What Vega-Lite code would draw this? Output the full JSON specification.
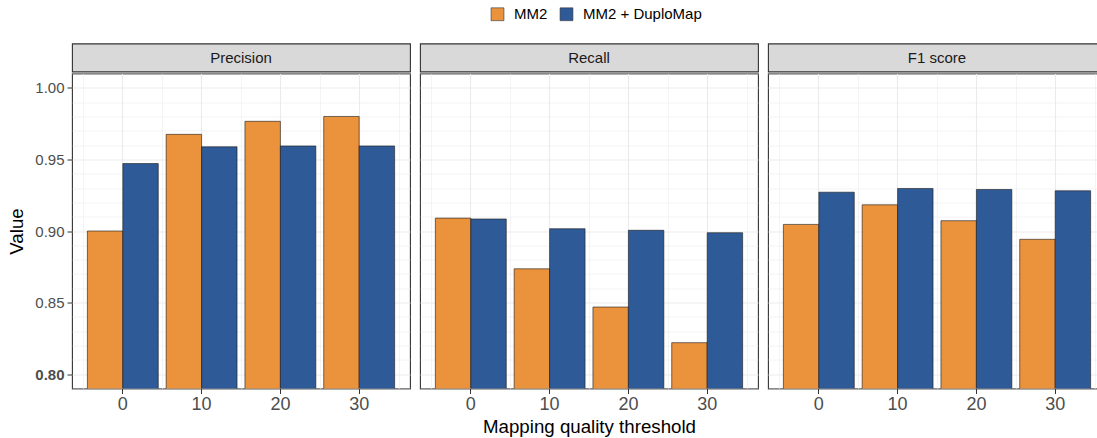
{
  "$schema": "https://vega.github.io/schema/vega-lite/v6.json",
  "padding": {"left": 7, "top": 6.5, "right": 0, "bottom": 0},
  "background": "white",
  "config": {
    "font": "Liberation Sans",
    "view": {"stroke": null},
    "concat": {"spacing": 8}
  },
  "datasets": {
    "d": [
      {"metric": "Precision", "threshold": 0, "method": "MM2", "value": 0.900},
      {"metric": "Precision", "threshold": 10, "method": "MM2", "value": 0.9675},
      {"metric": "Precision", "threshold": 20, "method": "MM2", "value": 0.9766},
      {"metric": "Precision", "threshold": 30, "method": "MM2", "value": 0.980},
      {"metric": "Precision", "threshold": 0, "method": "MM2 + DuploMap", "value": 0.9471},
      {"metric": "Precision", "threshold": 10, "method": "MM2 + DuploMap", "value": 0.9588},
      {"metric": "Precision", "threshold": 20, "method": "MM2 + DuploMap", "value": 0.9594},
      {"metric": "Precision", "threshold": 30, "method": "MM2 + DuploMap", "value": 0.9594},
      {"metric": "Recall", "threshold": 0, "method": "MM2", "value": 0.909},
      {"metric": "Recall", "threshold": 10, "method": "MM2", "value": 0.8736},
      {"metric": "Recall", "threshold": 20, "method": "MM2", "value": 0.8469},
      {"metric": "Recall", "threshold": 30, "method": "MM2", "value": 0.822},
      {"metric": "Recall", "threshold": 0, "method": "MM2 + DuploMap", "value": 0.9084},
      {"metric": "Recall", "threshold": 10, "method": "MM2 + DuploMap", "value": 0.9016},
      {"metric": "Recall", "threshold": 20, "method": "MM2 + DuploMap", "value": 0.9005},
      {"metric": "Recall", "threshold": 30, "method": "MM2 + DuploMap", "value": 0.8988},
      {"metric": "F1 score", "threshold": 0, "method": "MM2", "value": 0.9046},
      {"metric": "F1 score", "threshold": 10, "method": "MM2", "value": 0.9183},
      {"metric": "F1 score", "threshold": 20, "method": "MM2", "value": 0.9072},
      {"metric": "F1 score", "threshold": 30, "method": "MM2", "value": 0.8942},
      {"metric": "F1 score", "threshold": 0, "method": "MM2 + DuploMap", "value": 0.9271},
      {"metric": "F1 score", "threshold": 10, "method": "MM2 + DuploMap", "value": 0.9297},
      {"metric": "F1 score", "threshold": 20, "method": "MM2 + DuploMap", "value": 0.9290},
      {"metric": "F1 score", "threshold": 30, "method": "MM2 + DuploMap", "value": 0.9281}
    ]
  },
  "data": {"name": "d"},
  "resolve": {"scale": {"color": "shared"}, "legend": {"color": "shared"}},
  "hconcat": [
    {
      "spacing": 0,
      "resolve": {"scale": {"color": "shared"}, "legend": {"color": "shared"}},
      "vconcat": [
        {
          "width": 338, "height": 28,
          "transform": [{"filter": "datum.metric == 'Precision'"}, {"aggregate": [{"op": "count", "as": "n"}], "groupby": ["metric"]}],
          "view": {"fill": "#d9d9d9", "stroke": "#333333", "strokeWidth": 1.1},
          "mark": {"type": "text", "fontSize": 15, "color": "#1a1a1a", "baseline": "middle", "align": "center"},
          "encoding": {"text": {"field": "metric"}}
        },
        {
          "width": 338, "height": 315,
          "transform": [{"filter": "datum.metric == 'Precision'"}],
          "view": {"fill": "white", "stroke": "#333333", "strokeWidth": 1.1},
          "resolve": {"axis": {"x": "independent", "y": "independent"}},
          "layer": [
            {
              "mark": {"type": "bar", "opacity": 0, "clip": true},
              "encoding": {
                "x": {"field": "threshold", "type": "ordinal", "scale": {"paddingInner": 0, "paddingOuter": 0.145},
                      "axis": {"tickBand": "extent", "orient": "top", "labels": false, "ticks": false, "domain": false, "title": null, "grid": true, "gridColor": "#ebebeb", "gridWidth": 0.55, "minExtent": 0, "maxExtent": 0}},
                "y": {"field": "value", "type": "quantitative", "scale": {"domain": [0.79, 1.01], "zero": false, "nice": false},
                      "axis": {"orient": "right", "values": [0.79, 0.81, 0.82, 0.83, 0.84, 0.86, 0.87, 0.88, 0.89, 0.91, 0.92, 0.93, 0.94, 0.96, 0.97, 0.98, 0.99, 1.01], "labels": false, "ticks": false, "domain": false, "title": null, "grid": true, "gridColor": "#ebebeb", "gridWidth": 0.55, "minExtent": 0, "maxExtent": 0}}
              }
            },
            {
              "mark": {"type": "bar", "clip": true, "stroke": "#1a1a1a", "strokeWidth": 0.6},
              "encoding": {
                "x": {"field": "threshold", "type": "ordinal", "scale": {"paddingInner": 0, "paddingOuter": 0.145},
                      "axis": {"labelAngle": 0, "labelFontSize": 18, "labelColor": "#4d4d4d", "tickColor": "#333333", "tickSize": 5, "labelPadding": 2, "domain": false, "grid": true, "gridColor": "#ebebeb", "gridWidth": 1.1, "title": null}},
                "xOffset": {"field": "method", "type": "nominal", "scale": {"domain": ["MM2", "MM2 + DuploMap"], "paddingInner": 0, "paddingOuter": 0.1111}},
                "y": {"field": "value", "type": "quantitative", "scale": {"domain": [0.79, 1.01], "zero": false, "nice": false},
                      "axis": {"values": [0.8, 0.85, 0.9, 0.95, 1.0], "format": ".2f", "labelFontSize": 15, "labelColor": "#4d4d4d",
                               "labelFontWeight": {"condition": {"test": "datum.value < 0.81", "value": "bold"}, "value": "normal"},
                               "tickColor": "#333333", "tickSize": 5, "labelPadding": 3, "domain": false, "grid": true, "gridColor": "#ebebeb", "gridWidth": 1.1,
                               "title": "Value", "titleFontSize": 18.7, "titleFontWeight": "normal", "titleColor": "#000000", "titlePadding": 8}},
                "color": {"field": "method", "type": "nominal", "scale": {"domain": ["MM2", "MM2 + DuploMap"], "range": ["#EB923C", "#2F5A98"]},
                          "legend": {"orient": "none", "legendX": 418, "legendY": -37, "direction": "horizontal", "title": null, "symbolType": "square", "symbolSize": 165, "symbolStrokeColor": "#333333", "symbolStrokeWidth": 0.6, "symbolOpacity": 1, "labelFontSize": 15, "labelColor": "#000000", "labelOffset": 9, "columnPadding": 10}}
              }
            }
          ]
        }
      ]
    },
    {
      "spacing": 0,
      "resolve": {"scale": {"color": "shared"}, "legend": {"color": "shared"}},
      "vconcat": [
        {
          "width": 338, "height": 28,
          "transform": [{"filter": "datum.metric == 'Recall'"}, {"aggregate": [{"op": "count", "as": "n"}], "groupby": ["metric"]}],
          "view": {"fill": "#d9d9d9", "stroke": "#333333", "strokeWidth": 1.1},
          "mark": {"type": "text", "fontSize": 15, "color": "#1a1a1a", "baseline": "middle", "align": "center"},
          "encoding": {"text": {"field": "metric"}}
        },
        {
          "width": 338, "height": 315,
          "transform": [{"filter": "datum.metric == 'Recall'"}],
          "view": {"fill": "white", "stroke": "#333333", "strokeWidth": 1.1},
          "resolve": {"axis": {"x": "independent", "y": "independent"}},
          "layer": [
            {
              "mark": {"type": "bar", "opacity": 0, "clip": true},
              "encoding": {
                "x": {"field": "threshold", "type": "ordinal", "scale": {"paddingInner": 0, "paddingOuter": 0.145},
                      "axis": {"tickBand": "extent", "orient": "top", "labels": false, "ticks": false, "domain": false, "title": null, "grid": true, "gridColor": "#ebebeb", "gridWidth": 0.55, "minExtent": 0, "maxExtent": 0}},
                "y": {"field": "value", "type": "quantitative", "scale": {"domain": [0.79, 1.01], "zero": false, "nice": false},
                      "axis": {"orient": "right", "values": [0.79, 0.81, 0.82, 0.83, 0.84, 0.86, 0.87, 0.88, 0.89, 0.91, 0.92, 0.93, 0.94, 0.96, 0.97, 0.98, 0.99, 1.01], "labels": false, "ticks": false, "domain": false, "title": null, "grid": true, "gridColor": "#ebebeb", "gridWidth": 0.55, "minExtent": 0, "maxExtent": 0}}
              }
            },
            {
              "mark": {"type": "bar", "clip": true, "stroke": "#1a1a1a", "strokeWidth": 0.6},
              "encoding": {
                "x": {"field": "threshold", "type": "ordinal", "scale": {"paddingInner": 0, "paddingOuter": 0.145},
                      "axis": {"labelAngle": 0, "labelFontSize": 18, "labelColor": "#4d4d4d", "tickColor": "#333333", "tickSize": 5, "labelPadding": 2, "domain": false, "grid": true, "gridColor": "#ebebeb", "gridWidth": 1.1,
                               "title": "Mapping quality threshold", "titleFontSize": 18.7, "titleFontWeight": "normal", "titleColor": "#000000", "titlePadding": 4}},
                "xOffset": {"field": "method", "type": "nominal", "scale": {"domain": ["MM2", "MM2 + DuploMap"], "paddingInner": 0, "paddingOuter": 0.1111}},
                "y": {"field": "value", "type": "quantitative", "scale": {"domain": [0.79, 1.01], "zero": false, "nice": false},
                      "axis": {"values": [0.8, 0.85, 0.9, 0.95, 1.0], "labels": false, "ticks": false, "domain": false, "title": null, "grid": true, "gridColor": "#ebebeb", "gridWidth": 1.1, "minExtent": 0, "maxExtent": 0}},
                "color": {"field": "method", "type": "nominal", "scale": {"domain": ["MM2", "MM2 + DuploMap"], "range": ["#EB923C", "#2F5A98"]}, "legend": null}
              }
            }
          ]
        }
      ]
    },
    {
      "spacing": 0,
      "resolve": {"scale": {"color": "shared"}, "legend": {"color": "shared"}},
      "vconcat": [
        {
          "width": 338, "height": 28,
          "transform": [{"filter": "datum.metric == 'F1 score'"}, {"aggregate": [{"op": "count", "as": "n"}], "groupby": ["metric"]}],
          "view": {"fill": "#d9d9d9", "stroke": "#333333", "strokeWidth": 1.1},
          "mark": {"type": "text", "fontSize": 15, "color": "#1a1a1a", "baseline": "middle", "align": "center"},
          "encoding": {"text": {"field": "metric"}}
        },
        {
          "width": 338, "height": 315,
          "transform": [{"filter": "datum.metric == 'F1 score'"}],
          "view": {"fill": "white", "stroke": "#333333", "strokeWidth": 1.1},
          "resolve": {"axis": {"x": "independent", "y": "independent"}},
          "layer": [
            {
              "mark": {"type": "bar", "opacity": 0, "clip": true},
              "encoding": {
                "x": {"field": "threshold", "type": "ordinal", "scale": {"paddingInner": 0, "paddingOuter": 0.145},
                      "axis": {"tickBand": "extent", "orient": "top", "labels": false, "ticks": false, "domain": false, "title": null, "grid": true, "gridColor": "#ebebeb", "gridWidth": 0.55, "minExtent": 0, "maxExtent": 0}},
                "y": {"field": "value", "type": "quantitative", "scale": {"domain": [0.79, 1.01], "zero": false, "nice": false},
                      "axis": {"orient": "right", "values": [0.79, 0.81, 0.82, 0.83, 0.84, 0.86, 0.87, 0.88, 0.89, 0.91, 0.92, 0.93, 0.94, 0.96, 0.97, 0.98, 0.99, 1.01], "labels": false, "ticks": false, "domain": false, "title": null, "grid": true, "gridColor": "#ebebeb", "gridWidth": 0.55, "minExtent": 0, "maxExtent": 0}}
              }
            },
            {
              "mark": {"type": "bar", "clip": true, "stroke": "#1a1a1a", "strokeWidth": 0.6},
              "encoding": {
                "x": {"field": "threshold", "type": "ordinal", "scale": {"paddingInner": 0, "paddingOuter": 0.145},
                      "axis": {"labelAngle": 0, "labelFontSize": 18, "labelColor": "#4d4d4d", "tickColor": "#333333", "tickSize": 5, "labelPadding": 2, "domain": false, "grid": true, "gridColor": "#ebebeb", "gridWidth": 1.1, "title": null}},
                "xOffset": {"field": "method", "type": "nominal", "scale": {"domain": ["MM2", "MM2 + DuploMap"], "paddingInner": 0, "paddingOuter": 0.1111}},
                "y": {"field": "value", "type": "quantitative", "scale": {"domain": [0.79, 1.01], "zero": false, "nice": false},
                      "axis": {"values": [0.8, 0.85, 0.9, 0.95, 1.0], "labels": false, "ticks": false, "domain": false, "title": null, "grid": true, "gridColor": "#ebebeb", "gridWidth": 1.1, "minExtent": 0, "maxExtent": 0}},
                "color": {"field": "method", "type": "nominal", "scale": {"domain": ["MM2", "MM2 + DuploMap"], "range": ["#EB923C", "#2F5A98"]}, "legend": null}
              }
            }
          ]
        }
      ]
    }
  ]
}
